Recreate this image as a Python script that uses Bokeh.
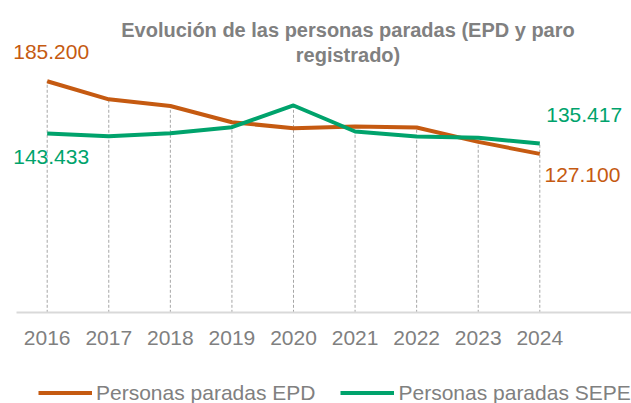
from bokeh.plotting import figure
from bokeh.models import (Range1d, LinearAxis, FixedTicker, Label, Legend, LegendItem,
                          ColumnDataSource)
from bokeh.core.properties import value
from bokeh.embed import file_html
from bokeh.resources import INLINE

# ---- data ----
years = [2016, 2017, 2018, 2019, 2020, 2021, 2022, 2023, 2024]
epd = [185200, 170700, 165400, 152400, 147600, 149000, 148200, 136700, 127100]
sepe = [143433, 141200, 143500, 148400, 165800, 145000, 141000, 140000, 135417]
series_names = ["Personas paradas EPD", "Personas paradas SEPE"]
title_lines = ["Evolución de las personas paradas (EPD y paro", "registrado)"]

ORANGE = "#C55A11"
GREEN = "#00A36C"
GREY_TXT = "#808080"
FONT = "Liberation Sans"

W, H = 631, 403
px_per_year = 61.575
val_per_px = 799.7
x0 = years[0] - 46.7 / px_per_year
x1 = x0 + W / px_per_year
y0 = -(H - 312.3) * val_per_px
y1 = y0 + H * val_per_px

p = figure(width=W, height=H, output_backend="svg", toolbar_location=None,
           x_range=Range1d(x0, x1), y_range=Range1d(y0, y1),
           x_axis_location=None, y_axis_location=None,
           min_border=0, min_border_left=0, min_border_right=0,
           min_border_top=0, min_border_bottom=0)
p.outline_line_color = None
p.grid.visible = False
p.background_fill_color = "white"
p.border_fill_color = "white"

# drop lines from the higher series down to the axis
tops = [max(a, b) for a, b in zip(epd, sepe)]
p.segment(x0=years, y0=[0] * len(years), x1=years, y1=tops,
          line_color="#a6a6a6", line_width=1, line_dash="3 2")

# x axis at value 0
ax = LinearAxis(fixed_location=0)
ax.ticker = FixedTicker(ticks=years)
ax.major_label_overrides = {y: str(y) for y in years}
ax.bounds = (x0 + 16 / px_per_year, x1)
ax.axis_line_color = "#d9d9d9"
ax.axis_line_width = 2
ax.major_tick_line_color = None
ax.minor_tick_line_color = None
ax.major_tick_out = 0
ax.major_tick_in = 0
ax.major_label_standoff = 18
ax.major_label_text_font = FONT
ax.major_label_text_font_size = "21px"
ax.major_label_text_color = GREY_TXT
p.add_layout(ax, "below")

r1 = p.line(years, epd, line_color=ORANGE, line_width=4, line_join="round")
r2 = p.line(years, sepe, line_color=GREEN, line_width=4, line_join="round")

def fmt(v):
    return f"{v:,}".replace(",", ".")

# value labels at the ends
lab = ColumnDataSource(dict(
    x=[years[0], years[0], years[-1], years[-1]],
    y=[epd[0], sepe[0], sepe[-1], epd[-1]],
    t=[fmt(epd[0]), fmt(sepe[0]), fmt(sepe[-1]), fmt(epd[-1])],
    c=[ORANGE, GREEN, GREEN, ORANGE],
    dx=[-34, -34, 6.4, 4.7],
    dy=[-29.7, 24, -28, 21.6],
))
p.text(x="x", y="y", text="t", source=lab, text_color="c", x_offset="dx", y_offset="dy",
       text_font=value(FONT), text_font_size="21px", text_align="left",
       text_baseline="middle")

# title
for line, sy in zip(title_lines, [374, 349]):
    p.add_layout(Label(x=347.5, y=sy, x_units="screen", y_units="screen", text=line,
                       text_font=FONT, text_font_size="20px", text_font_style="bold",
                       text_color=GREY_TXT, text_align="center", text_baseline="middle"))

legend = Legend(items=[LegendItem(label=series_names[0], renderers=[r1]),
                       LegendItem(label=series_names[1], renderers=[r2])],
                orientation="horizontal", location=(38, -1.5),
                padding=0, margin=0, spacing=25, label_standoff=4,
                glyph_width=54, glyph_height=21, label_height=21,
                label_text_font=FONT, label_text_font_size="21px",
                label_text_color=GREY_TXT, border_line_color=None,
                background_fill_alpha=0)
p.add_layout(legend)

open("out.html", "w").write(file_html(p, INLINE))
